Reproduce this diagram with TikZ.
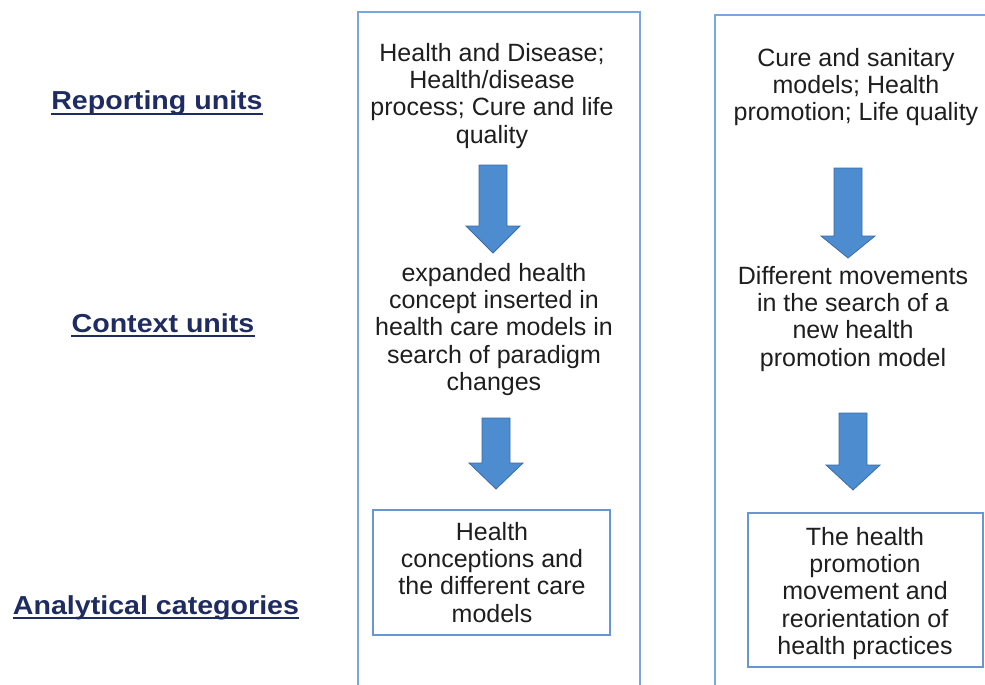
\documentclass[tikz,border=0pt]{standalone}
\usepackage{fontspec}
\setmainfont{Liberation Sans}
\newfontfamily\labelfont{Liberation Sans}[FakeStretch=1.1]
\definecolor{frameblue}{RGB}{122,166,220}
\definecolor{boxblue}{RGB}{104,150,208}
\definecolor{arrowblue}{RGB}{77,140,206}
\definecolor{arrowedge}{RGB}{58,108,168}
\definecolor{navy}{RGB}{31,44,98}
\definecolor{bodygray}{RGB}{30,30,30}
% down-pointing block arrow: centre x, shaft top, head base, tip
\newcommand\blockdown[4]{%
  \filldraw[blockarrow] (#1-14,#2) -- (#1+14,#2) -- (#1+14,#3) -- (#1+27,#3)
    -- (#1,#4) -- (#1-27,#3) -- (#1-14,#3) -- cycle;}
\begin{document}
\begin{tikzpicture}[x=1pt,y=-1pt,
  frame/.style={draw=frameblue, line width=2pt},
  catbox/.style={draw=boxblue, line width=1.6pt, inner sep=0pt},
  body/.style={inner sep=0pt, align=center, text=bodygray,
    font=\fontsize{25}{27.3}\selectfont, anchor=north},
  unitlabel/.style={inner sep=0pt, anchor=base, text=navy,
    font=\labelfont\bfseries\fontsize{26}{30}\selectfont},
  uline/.style={draw=navy, line width=2pt},
  blockarrow/.style={fill=arrowblue, draw=arrowedge, line width=0.8pt, line join=miter}]
\useasboundingbox (0,0) rectangle (985,685);
\clip (0,0) rectangle (985,685);

% column frames (open towards the bottom and right)
\draw[frame] (358,12) rectangle (640,720);
\draw[frame] (715,15) rectangle (1010,720);

% row labels
\node[unitlabel] (rep) at (157,110) {Reporting units};
\node[unitlabel] (ctx) at (163,332) {Context units};
\node[unitlabel] (ana) at (156,614) {Analytical categories};
\foreach \n in {rep,ctx,ana}
  \draw[uline] ([yshift=-4pt]\n.base west) -- ([yshift=-4pt]\n.base east);

% left column
\node[body] (l1) at (492,43) {Health and Disease;\\Health/disease\\process; Cure and life\\quality};
\blockdown{493}{165}{226}{253}
\node[body] (l2) at (494,263) {expanded health\\concept inserted in\\health care models in\\search of paradigm\\changes};
\blockdown{496}{418}{463}{489}
\node[catbox, minimum width=237pt, minimum height=125pt] (lbox) at (491.5,572.5) {};
\node[body] (l3) at (492,522) {Health\\conceptions and\\the different care\\models};

% right column
\node[body] (r1) at (856,48) {Cure and sanitary\\models; Health\\promotion; Life quality};
\blockdown{848}{168}{236}{258}
\node[body] (r2) at (853,266) {Different movements\\in the search of a\\new health\\promotion model};
\blockdown{853}{413}{465}{490}
\node[catbox, minimum width=235pt, minimum height=154pt] (rbox) at (865.5,590) {};
\node[body] (r3) at (865,527) {The health\\promotion\\movement and\\reorientation of\\health practices};
\end{tikzpicture}
\end{document}
